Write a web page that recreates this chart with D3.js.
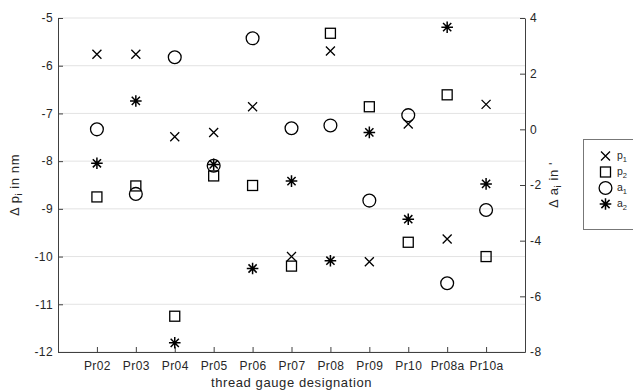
<!DOCTYPE html>
<html>
<head>
<meta charset="utf-8">
<script src="https://cdn.jsdelivr.net/npm/d3@7"></script>
<style>
  body { margin: 0; background: #fff; }
  text { font-family: "Liberation Sans", Arial, sans-serif; }
</style>
</head>
<body>
<div id="chart"></div>
<script>
// gauge names along the x axis
var gauges = ["Pr02", "Pr03", "Pr04", "Pr05", "Pr06", "Pr07", "Pr08", "Pr09", "Pr10", "Pr08a", "Pr10a"];

// left axis series (nm)
var p1 = [-5.76, -5.76, -7.49, -7.40, -6.86, -10.00, -5.69, -10.11, -7.22, -9.63, -6.81];
var p2 = [-8.75, -8.52, -11.25, -8.31, -8.51, -10.20, -5.32, -6.86, -9.70, -6.61, -10.00];

// right axis series (')
var a1 = [0.00, -2.32, 2.59, -1.31, 3.27, 0.04, 0.14, -2.56, 0.51, -5.53, -2.90];
var a2 = [-1.22, 1.02, -7.67, -1.26, -5.00, -1.86, -4.72, -0.11, -3.23, 3.67, -1.96];

var leftTicks = [-12, -11, -10, -9, -8, -7, -6, -5];
var rightTicks = [-8, -6, -4, -2, 0, 2, 4];

var svgWidth = 633;
var svgHeight = 391;
var margin = { top: 18, right: 108, bottom: 39, left: 58 };
var width = svgWidth - margin.left - margin.right;
var height = svgHeight - margin.top - margin.bottom;

var svg = d3.select("#chart").append("svg")
    .attr("width", svgWidth)
    .attr("height", svgHeight);

var g = svg.append("g")
    .attr("transform", `translate(${margin.left},${margin.top})`);

var x = d3.scaleLinear().domain([0, gauges.length + 1]).range([0, width]);
var yL = d3.scaleLinear().domain([-12, -5]).range([height, 0]);
var yR = d3.scaleLinear().domain([-8, 4]).range([height, 0]);

var axisCol = "#404040";
var textCol = "#262626";

// grid lines follow the left axis
g.selectAll(".grid").data(leftTicks).enter().append("line")
    .attr("x1", 0).attr("x2", width)
    .attr("y1", d => yL(d)).attr("y2", d => yL(d))
    .attr("stroke", "#e3e3e3").attr("stroke-width", 1);

// axes
var xAxis = g.append("g")
    .attr("transform", `translate(0,${height})`)
    .call(d3.axisBottom(x)
        .tickValues(d3.range(1, gauges.length + 1))
        .tickFormat(d => gauges[d - 1])
        .tickSize(-5).tickPadding(9).tickSizeOuter(0));

var leftAxis = g.append("g")
    .call(d3.axisLeft(yL).tickValues(leftTicks).tickFormat(d3.format("d"))
        .tickSize(-5).tickPadding(5).tickSizeOuter(0));

var rightAxis = g.append("g")
    .attr("transform", `translate(${width},0)`)
    .call(d3.axisRight(yR).tickValues(rightTicks).tickFormat(d3.format("d"))
        .tickSize(-5).tickPadding(5).tickSizeOuter(0));

[xAxis, leftAxis, rightAxis].forEach(function (a) {
    a.select(".domain").attr("stroke", axisCol);
    a.selectAll(".tick line").attr("stroke", axisCol);
    a.selectAll(".tick text").attr("fill", textCol)
        .style("font-size", "12px").style("letter-spacing", "0.4px");
});
// d3 uses unicode minus; the picture uses a hyphen
leftAxis.selectAll(".tick text").text(d => String(d));
rightAxis.selectAll(".tick text").text(d => String(d));

// marker shapes
function drawMarkers(data, yScale, kind) {
    var grp = g.append("g").attr("fill", "none").attr("stroke", "#000").attr("stroke-width", 1.3);
    data.forEach(function (v, i) {
        addMarker(grp, kind, x(i + 1), yScale(v));
    });
}

function addMarker(grp, kind, cx, cy) {
    if (kind === "x") {
        var s = 4.5;
        grp.append("path").attr("d", `M${cx - s},${cy - s}L${cx + s},${cy + s}M${cx - s},${cy + s}L${cx + s},${cy - s}`);
    } else if (kind === "square") {
        var h = 5;
        grp.append("rect").attr("x", cx - h).attr("y", cy - h).attr("width", 2 * h).attr("height", 2 * h);
    } else if (kind === "circle") {
        grp.append("circle").attr("cx", cx).attr("cy", cy).attr("r", 6.4);
    } else {
        var r = 5.8, d = 4.1;
        grp.append("path").attr("stroke-width", 1.5)
            .attr("d", `M${cx},${cy - r}L${cx},${cy + r}M${cx - r},${cy}L${cx + r},${cy}` +
                `M${cx - d},${cy - d}L${cx + d},${cy + d}M${cx - d},${cy + d}L${cx + d},${cy - d}`);
    }
}

drawMarkers(p1, yL, "x");
drawMarkers(p2, yL, "square");
drawMarkers(a1, yR, "circle");
drawMarkers(a2, yR, "star");

// axis titles
var lbl = svg.append("text")
    .attr("transform", `translate(19,${margin.top + height / 2}) rotate(-90)`)
    .attr("text-anchor", "middle").attr("fill", textCol)
    .style("font-size", "13px").style("letter-spacing", "0.6px");
lbl.append("tspan").text("\u0394 p");
lbl.append("tspan").attr("dy", 3).style("font-size", "9px").text("i");
lbl.append("tspan").attr("dy", -3).text(" in nm");

var rlbl = svg.append("text")
    .attr("transform", `translate(558,${margin.top + height / 2}) rotate(-90)`)
    .attr("text-anchor", "middle").attr("fill", textCol)
    .style("font-size", "13px").style("letter-spacing", "0.6px");
rlbl.append("tspan").text("\u0394 a");
rlbl.append("tspan").attr("dy", 3).style("font-size", "9px").text("i");
rlbl.append("tspan").attr("dy", -3).text(" in '");

svg.append("text")
    .attr("x", margin.left + width / 2).attr("y", 387)
    .attr("text-anchor", "middle").attr("fill", textCol)
    .style("font-size", "13px").style("letter-spacing", "0.6px")
    .text("thread gauge designation");

// legend
var legendNames = ["p", "p", "a", "a"];
var legendSubs = ["1", "2", "1", "2"];
var legendKinds = ["x", "square", "circle", "star"];

var lg = svg.append("g");
lg.append("rect").attr("x", 583.5).attr("y", 139.5).attr("width", 60).attr("height", 90)
    .attr("fill", "#fff").attr("stroke", "#777").attr("stroke-width", 1);
var lgMarks = lg.append("g").attr("fill", "none").attr("stroke", "#000").attr("stroke-width", 1.3);
legendKinds.forEach(function (k, i) {
    var cy = 156 + i * 16;
    addMarker(lgMarks, k, 605.5, cy);
    var t = lg.append("text").attr("x", 617).attr("y", cy + 3)
        .attr("fill", textCol).style("font-size", "10.5px");
    t.append("tspan").text(legendNames[i]);
    t.append("tspan").attr("dy", 3).style("font-size", "7.5px").text(legendSubs[i]);
});
</script>
</body>
</html>
